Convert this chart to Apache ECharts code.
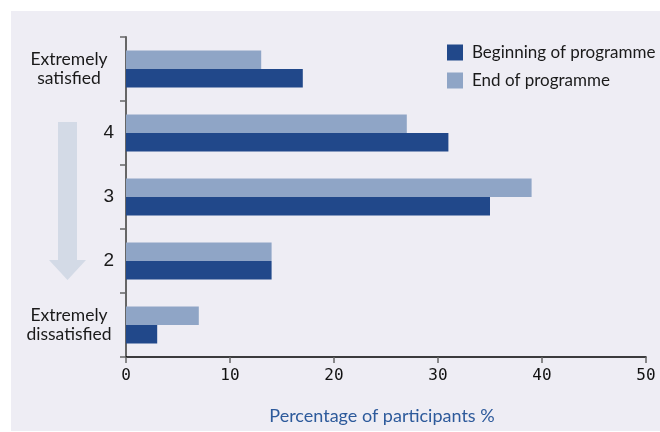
<!DOCTYPE html>
<html>
<head>
<meta charset="utf-8">
<script src="https://cdn.jsdelivr.net/npm/echarts@6/dist/echarts.min.js"></script>
<style>html,body{margin:0;padding:0;background:#fff}#c{width:660px;height:432px}</style>
</head>
<body>
<div id="c"></div>
<script>
const categories = ['Extremely\nsatisfied', '4', '3', '2', 'Extremely\ndissatisfied'];
const beginning = [17, 31, 35, 14, 3];
const endProg = [13, 27, 39, 14, 7];
const xTicks = [0, 10, 20, 30, 40, 50];
const seriesNames = ['Beginning of programme', 'End of programme'];
const xAxisTitle = 'Percentage of participants %';

const DARK = '#21488a', LIGHT = '#8fa5c6';
const chart = echarts.init(document.getElementById('c'), null, {renderer: 'canvas'});
chart.setOption({
  animation: false,
  backgroundColor: '#ffffff',
  graphic: [
    {type: 'rect', z: -10, silent: true, shape: {x: 11, y: 11, width: 649, height: 420}, style: {fill: '#eeedf4'}},
    {type: 'polygon', z: -5, silent: true, shape: {points: [[58,122],[77,122],[77,260],[86,260],[67.5,280],[49,260],[58,260]]}, style: {fill: '#d3dae6'}}
  ],
  legend: {
    data: seriesNames,
    orient: 'vertical',
    left: 447, top: 44, padding: 0,
    itemWidth: 16, itemHeight: 16, itemGap: 11,
    icon: 'rect',
    textStyle: {fontFamily: 'Lato', fontSize: 17, color: '#1a1a1a', padding: [0,0,0,4], lineHeight: 16}
  },
  grid: {left: 126, right: 14, top: 37, bottom: 75, containLabel: false},
  xAxis: {
    type: 'value', min: xTicks[0], max: xTicks[xTicks.length-1], interval: 10,
    axisLine: {show: true, lineStyle: {color: '#000', width: 1.5}},
    axisTick: {show: true, length: 6, lineStyle: {color: '#666', width: 1.5}},
    splitLine: {show: false},
    axisLabel: {fontFamily: 'DejaVu Sans Mono', fontSize: 16, color: '#111', margin: 11},
    name: xAxisTitle, nameLocation: 'middle', nameGap: 50,
    nameTextStyle: {fontFamily: 'Lato', fontSize: 18, color: '#2d5a9b', padding: [0, 8, 0, 0]}
  },
  yAxis: {
    type: 'category', data: categories, inverse: true,
    axisLine: {show: true, lineStyle: {color: '#666', width: 2}},
    axisTick: {show: true, length: 6, lineStyle: {color: '#666', width: 1.5}},
    axisLabel: {
      margin: 12,
      formatter: function (v) {
        if (v.indexOf('\n') >= 0) return v.split('\n').map(s => '{m|' + s + '}').join('\n');
        return '{d|' + v + '}';
      },
      rich: {
        m: {fontFamily: 'Lato', fontSize: 17.5, color: '#1a1a1a', width: 90, align: 'center', lineHeight: 19},
        d: {fontFamily: 'Liberation Sans', fontSize: 19, color: '#1a1a1a'}
      }
    }
  },
  series: [
    {name: seriesNames[1], type: 'bar', data: endProg, barWidth: 18.5, barGap: '0%', itemStyle: {color: LIGHT}},
    {name: seriesNames[0], type: 'bar', data: beginning, barWidth: 18.5, barGap: '0%', itemStyle: {color: DARK}}
  ]
});
</script>
</body>
</html>
